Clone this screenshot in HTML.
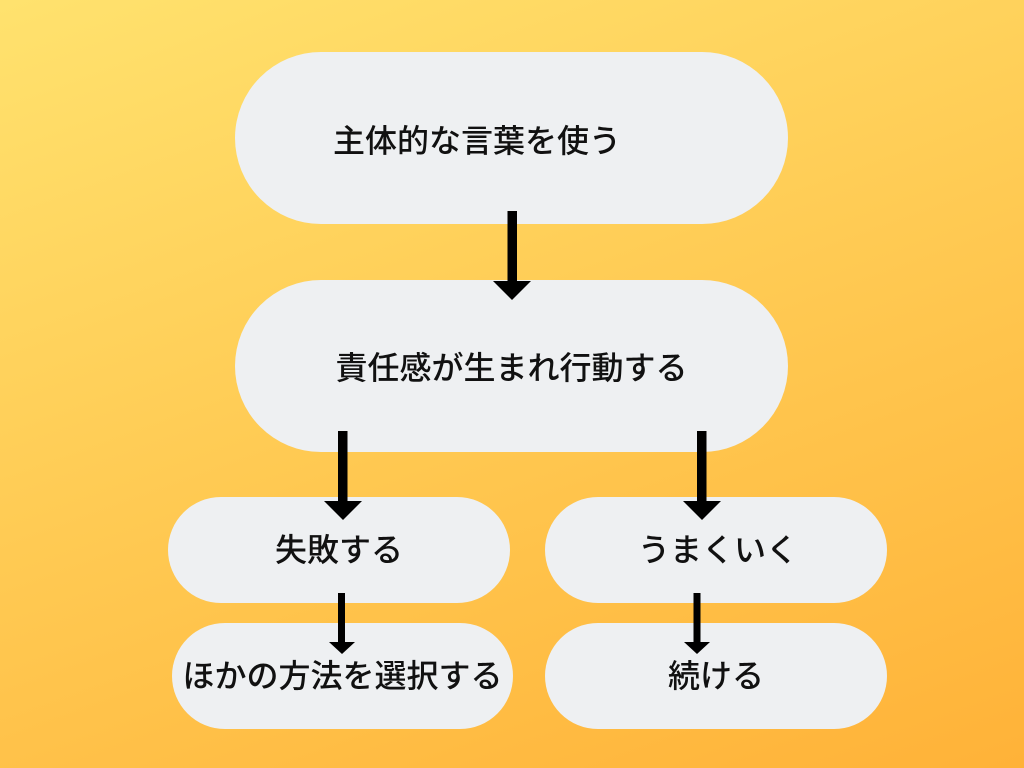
<!DOCTYPE html>
<html>
<head>
<meta charset="utf-8">
<style>
  html,body{margin:0;padding:0;}
  body{width:1024px;height:768px;overflow:hidden;position:relative;
    background:linear-gradient(160deg,#FFE26E 0%,#FFCC55 45%,#FFB238 100%);
    font-family:"Liberation Sans","Noto Sans CJK JP",sans-serif;}
  .pill{position:absolute;background:#EEF0F2;}
  .big{border-radius:86px;}
  .small{border-radius:53px;}
  .t{position:absolute;height:32px;line-height:32px;font-size:32px;color:#111;white-space:nowrap;font-weight:500;}
  svg{position:absolute;left:0;top:0;}
</style>
</head>
<body>
  <div class="pill big" style="left:235px;top:52px;width:553px;height:172px;"></div>
  <div class="pill big" style="left:235px;top:280px;width:553px;height:172px;"></div>
  <div class="pill small" style="left:168px;top:497px;width:342px;height:106px;"></div>
  <div class="pill small" style="left:545px;top:497px;width:342px;height:106px;"></div>
  <div class="pill small" style="left:172px;top:623px;width:341px;height:106px;"></div>
  <div class="pill small" style="left:545px;top:623px;width:342px;height:106px;"></div>

  <div class="t" style="left:333px;top:125px;">主体的な言葉を使う</div>
  <div class="t" style="left:235px;width:553px;text-align:center;top:352px;">責任感が生まれ行動する</div>
  <div class="t" style="left:166px;width:346px;text-align:center;top:534px;">失敗する</div>
  <div class="t" style="left:545px;width:346px;text-align:center;top:534px;">うまくいく</div>
  <div class="t" style="left:170px;width:345px;text-align:center;top:660px;">ほかの方法を選択する</div>
  <div class="t" style="left:543px;width:346px;text-align:center;top:660px;">続ける</div>

  <svg width="1024" height="768" viewBox="0 0 1024 768">
    <rect x="507.5" y="211" width="9.5" height="72" fill="#000"/>
    <polygon points="493,281 531,281 512,300" fill="#000"/>
    <rect x="338" y="431" width="9.5" height="72" fill="#000"/>
    <polygon points="324,501 362,501 343,520" fill="#000"/>
    <rect x="697" y="431" width="9.5" height="72" fill="#000"/>
    <polygon points="683,501 721,501 702,520" fill="#000"/>
    <rect x="338" y="593" width="7" height="51" fill="#000"/>
    <polygon points="329,642 355,642 342,654" fill="#000"/>
    <rect x="693.5" y="593" width="7" height="51" fill="#000"/>
    <polygon points="684,642 710,642 697,654" fill="#000"/>
  </svg>
</body>
</html>
